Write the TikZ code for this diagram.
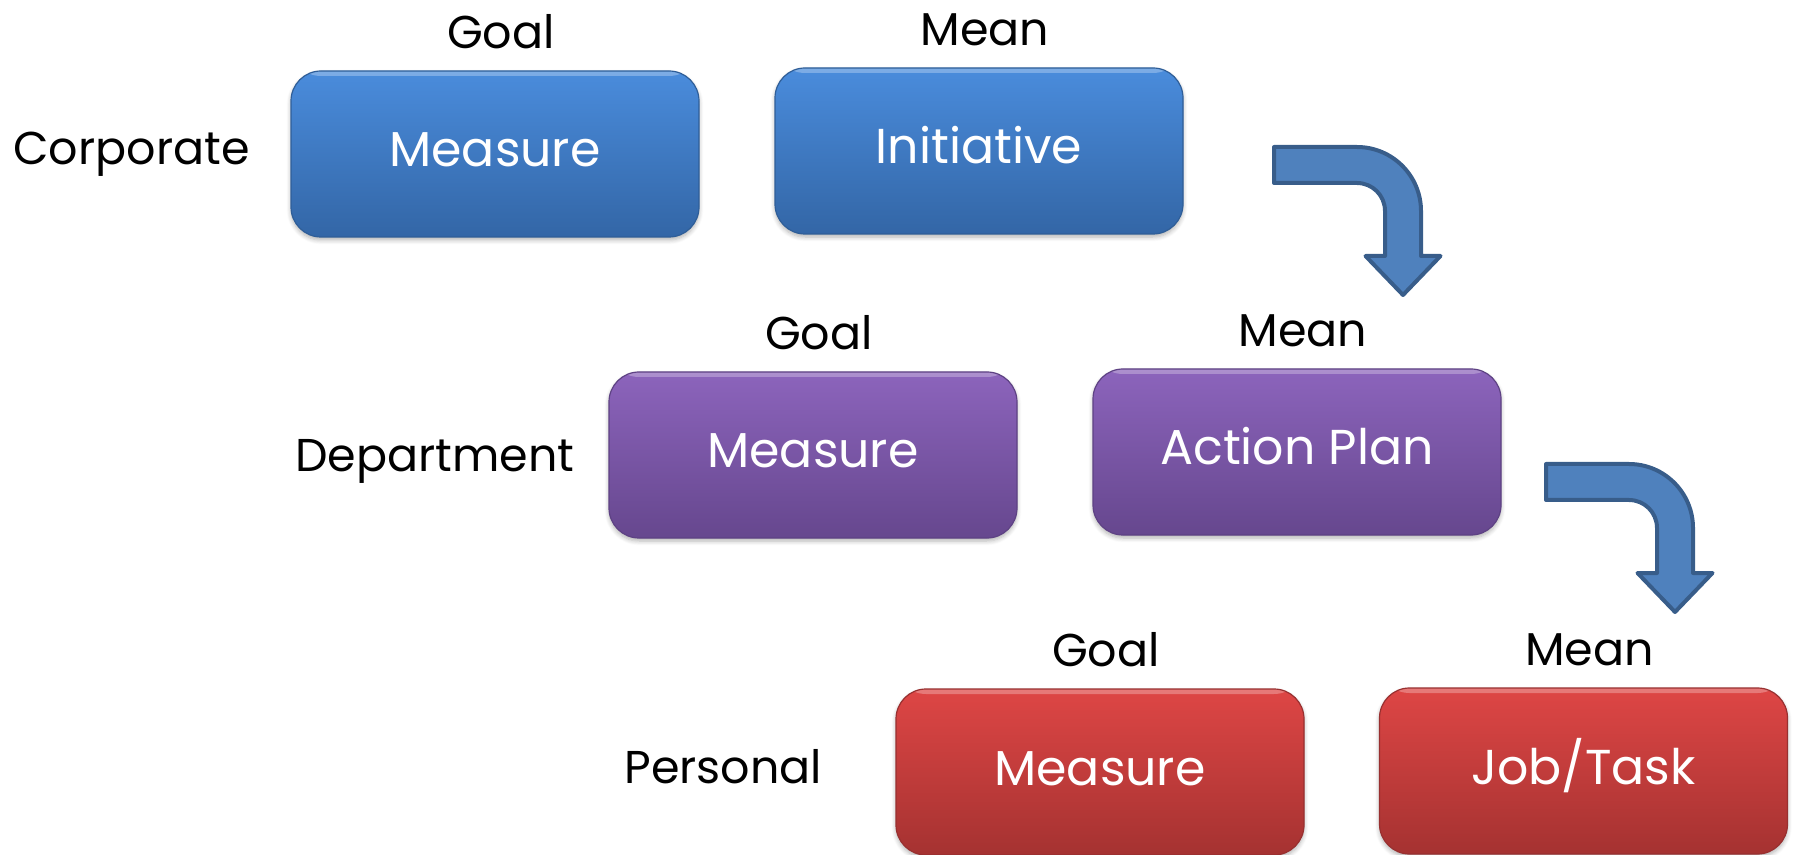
\documentclass[tikz,border=0pt]{standalone}
\usepackage{fontspec}
\setmainfont{Poppins}
\usetikzlibrary{shadows.blur}

\definecolor{blueTop}{HTML}{4A8CDC}
\definecolor{blueBot}{HTML}{3366A6}
\definecolor{blueEdge}{HTML}{2F5E98}
\definecolor{purpTop}{HTML}{8C64BC}
\definecolor{purpBot}{HTML}{66478E}
\definecolor{purpEdge}{HTML}{5E4284}
\definecolor{redTop}{HTML}{DE4645}
\definecolor{redBot}{HTML}{A53231}
\definecolor{redEdge}{HTML}{983030}
\definecolor{arrFill}{HTML}{4F81BD}
\definecolor{arrLine}{HTML}{385D8A}

\begin{document}
\begin{tikzpicture}[x=0.5pt, y=-0.5pt,
  level/.style={rounded corners=15pt, minimum width=204pt, minimum height=83pt,
    inner sep=0pt, text=white, font=\fontsize{24.5}{28}\selectfont,
    text height=17pt, text depth=4pt,
    blur shadow={shadow xshift=0pt, shadow yshift=-1.5pt, shadow blur steps=6, shadow opacity=30},
    path picture={
      \fill[white, opacity=0.28] (path picture bounding box.north west)
        rectangle ([yshift=-2.5pt]path picture bounding box.north east);
    }},
  bluebox/.style={level, top color=blueTop, bottom color=blueBot, draw=blueEdge, line width=0.6pt},
  purplebox/.style={level, top color=purpTop, bottom color=purpBot, draw=purpEdge, line width=0.6pt},
  redbox/.style={level, top color=redTop, bottom color=redBot, draw=redEdge, line width=0.6pt},
  head/.style={anchor=base, font=\fontsize{23}{27}\selectfont, inner sep=0pt},
  side/.style={anchor=base west, font=\fontsize{23}{27}\selectfont, inner sep=0pt},
  bent/.style={fill=arrFill, draw=arrLine, line width=2pt, line join=round}
]
\useasboundingbox (0,0) rectangle (1794,855);

% boxes: goal (measure) and mean for each level
\node[bluebox]   (cm) at (495,154)    {Measure};
\node[bluebox]   (ci) at (979,151)    {Initiative};
\node[purplebox] (dm) at (813,455)    {Measure};
\node[purplebox] (da) at (1297,452)   {Action Plan};
\node[redbox]    (pm) at (1100,772)   {Measure};
\node[redbox]    (pj) at (1583.5,771) {Job/Task};

% column headings
\node[head] (gc) at ([xshift=3pt, yshift=11pt]cm.north) {Goal};
\node[head] (mc) at ([xshift=3pt, yshift=11pt]ci.north) {Mean};
\node[head] (gd) at ([xshift=3pt, yshift=11pt]dm.north) {Goal};
\node[head] (md) at ([xshift=3pt, yshift=11pt]da.north) {Mean};
\node[head] (gp) at ([xshift=3pt, yshift=11pt]pm.north) {Goal};
\node[head] (mp) at ([xshift=3pt, yshift=11pt]pj.north) {Mean};

% level names
\node[side] (lc) at (13,165)  {Corporate};
\node[side] (ld) at (295,472) {Department};
\node[side] (lp) at (624,783) {Personal};

% bent arrows between levels
\foreach \ox/\oy in {1272/145, 1544/462}{
  \begin{scope}[shift={(\ox,\oy)}]
    \draw[bent] (2,2) -- (85,2)
      .. controls (120.3,2) and (149,30.7) .. (149,66)
      -- (149,111) -- (168.5,111) -- (131,150) -- (93.5,111) -- (113,111)
      -- (113,66)
      .. controls (113,50.5) and (100.5,38) .. (85,38)
      -- (2,38) -- cycle;
  \end{scope}
}
\end{tikzpicture}
\end{document}
